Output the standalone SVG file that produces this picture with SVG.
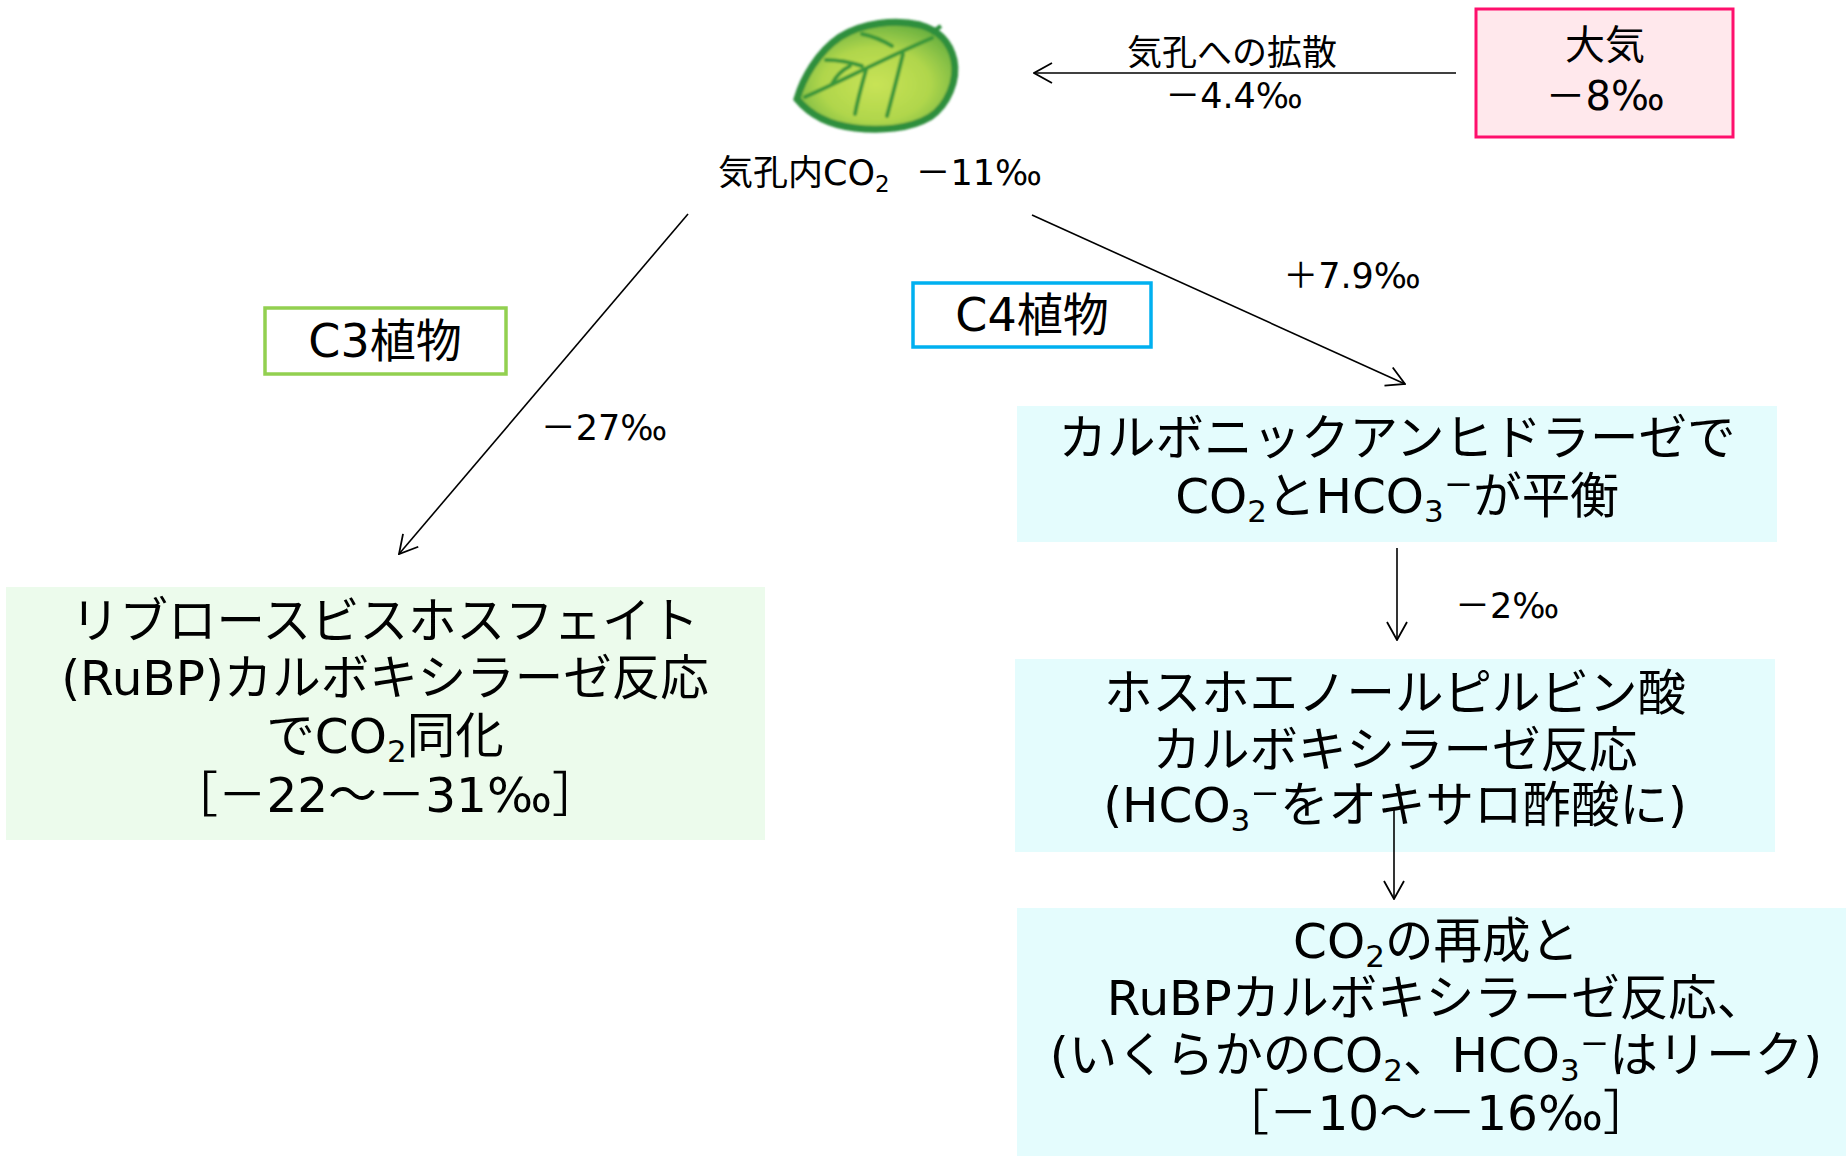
<svg xmlns="http://www.w3.org/2000/svg" width="1846" height="1156" viewBox="0 0 1846 1156">
  <style>
    text { font-family: "DejaVu Sans", "Noto Sans CJK JP", sans-serif; fill: #000; }
    .big { font-size: 48.5px; text-anchor: middle; }
    .mid { font-size: 35px; }
    .tag { font-size: 46px; text-anchor: middle; }
    .sub { font-size: 31px; baseline-shift: -9px; }
    .sub-s { font-size: 23px; baseline-shift: -7px; }
    .sup { font-size: 56px; }
    .edge { stroke: #000; stroke-width: 1.6; fill: none; marker-end: url(#head); }
    .c3fill { fill: #ECFBEC; }
    .c4fill { fill: #E4FCFD; }
  </style>
  <defs>
    <marker id="head" viewBox="0 0 20 24" refX="19" refY="12" markerWidth="20" markerHeight="24" markerUnits="userSpaceOnUse" orient="auto">
      <path d="M1,2 L19,12 L1,22" fill="none" stroke="#000" stroke-width="1.8"/>
    </marker>
    <radialGradient id="leafFill" cx="0.5" cy="0.58" r="0.62">
      <stop offset="0" stop-color="#C8E356"/>
      <stop offset="0.55" stop-color="#B0D64C"/>
      <stop offset="1" stop-color="#62AD3F"/>
    </radialGradient>
    <filter id="soft" x="-10%" y="-10%" width="120%" height="120%">
      <feGaussianBlur stdDeviation="1"/>
    </filter>
  </defs>

  <rect width="1846" height="1156" fill="#FFFFFF"/>

  <!-- leaf with stomatal CO2 label -->
  <g id="leaf">
    <g filter="url(#soft)">
      <path d="M797,99 C803,78 818,52 840,37 C862,23 895,19 920,25 C938,30 950,42 954,60 C958,80 948,105 930,117 C910,129 880,131 855,128 C830,125 810,115 797,99 Z" fill="url(#leafFill)" stroke="#2E8F3E" stroke-width="7"/>
      <path d="M931,33 L941,26" stroke="#2E8F3E" stroke-width="4" fill="none"/>
      <g stroke="#3A973A" stroke-width="4" fill="none" stroke-linecap="round">
        <path d="M805,97 C840,82 885,58 932,38"/>
        <path d="M866,70 C862,84 858,98 855,114"/>
        <path d="M903,54 C898,74 893,94 887,116"/>
        <path d="M832,84 C836,76 842,70 850,66"/>
        <path d="M826,60 C838,60 850,62 862,66"/>
        <path d="M862,34 C872,36 882,40 892,46"/>
      </g>
    </g>
    <text class="mid" x="718" y="185">気孔内CO<tspan class="sub-s">2</tspan></text>
    <text class="mid" x="1042" y="185" text-anchor="end">－11‰</text>
  </g>

  <!-- atmosphere -->
  <g id="atmosphere">
    <rect x="1476" y="9" width="257" height="128" fill="#FFE8EC" stroke="#FF0F6C" stroke-width="3"/>
    <text x="1605" y="59" font-size="40" text-anchor="middle">大気</text>
    <text x="1605" y="110" font-size="40" text-anchor="middle">－8‰</text>
  </g>

  <!-- plant type tags -->
  <g id="c3-tag">
    <rect x="265" y="308" width="241" height="66" fill="#FFFFFF" stroke="#92D050" stroke-width="3.5"/>
    <text class="tag" x="385" y="357">C3植物</text>
  </g>
  <g id="c4-tag">
    <rect x="913" y="283" width="238" height="64" fill="#FFFFFF" stroke="#00B0F0" stroke-width="3.5"/>
    <text class="tag" x="1032" y="331">C4植物</text>
  </g>

  <!-- C3 pathway -->
  <g id="c3-rubisco">
    <rect class="c3fill" x="6" y="587" width="759" height="253"/>
    <text class="big" x="385" y="638">リブロースビスホスフェイト</text>
    <text class="big" x="385" y="695">(RuBP)カルボキシラーゼ反応</text>
    <text class="big" x="385" y="753">でCO<tspan class="sub">2</tspan>同化</text>
    <text class="big" x="385" y="812">［－22～－31‰］</text>
  </g>

  <!-- C4 pathway -->
  <g id="c4-anhydrase">
    <rect class="c4fill" x="1017" y="406" width="760" height="136"/>
    <text class="big" x="1397" y="455">カルボニックアンヒドラーゼで</text>
    <text class="big" x="1397" y="513">CO<tspan class="sub">2</tspan>とHCO<tspan class="sub">3</tspan><tspan class="sup">⁻</tspan>が平衡</text>
  </g>
  <g id="c4-pepc">
    <rect class="c4fill" x="1015" y="659" width="760" height="193"/>
    <text class="big" x="1395" y="710">ホスホエノールピルビン酸</text>
    <text class="big" x="1395" y="767">カルボキシラーゼ反応</text>
    <text class="big" x="1395" y="822">(HCO<tspan class="sub">3</tspan><tspan class="sup">⁻</tspan>をオキサロ酢酸に)</text>
  </g>
  <g id="c4-rubisco">
    <rect class="c4fill" x="1017" y="908" width="829" height="248"/>
    <text class="big" x="1436" y="958">CO<tspan class="sub">2</tspan>の再成と</text>
    <text class="big" x="1436" y="1015">RuBPカルボキシラーゼ反応、</text>
    <text class="big" x="1436" y="1072">(いくらかのCO<tspan class="sub">2</tspan>、HCO<tspan class="sub">3</tspan><tspan class="sup">⁻</tspan>はリーク)</text>
    <text class="big" x="1436" y="1130">［－10～－16‰］</text>
  </g>

  <!-- connectors and their labels -->
  <g id="connectors">
    <line class="edge" x1="1456" y1="73" x2="1034" y2="73"/>
    <text class="mid" x="1232" y="65" text-anchor="middle">気孔への拡散</text>
    <text class="mid" x="1234" y="108" text-anchor="middle">－4.4‰</text>

    <line class="edge" x1="688" y1="214" x2="399" y2="554"/>
    <text class="mid" x="604" y="440" text-anchor="middle">－27‰</text>

    <line class="edge" x1="1032" y1="215" x2="1405" y2="384"/>
    <text class="mid" x="1352" y="288" text-anchor="middle">＋7.9‰</text>

    <line class="edge" x1="1397" y1="548" x2="1397" y2="640"/>
    <text class="mid" x="1507" y="618" text-anchor="middle">－2‰</text>

    <line class="edge" x1="1394" y1="808" x2="1394" y2="899"/>
  </g>
</svg>
